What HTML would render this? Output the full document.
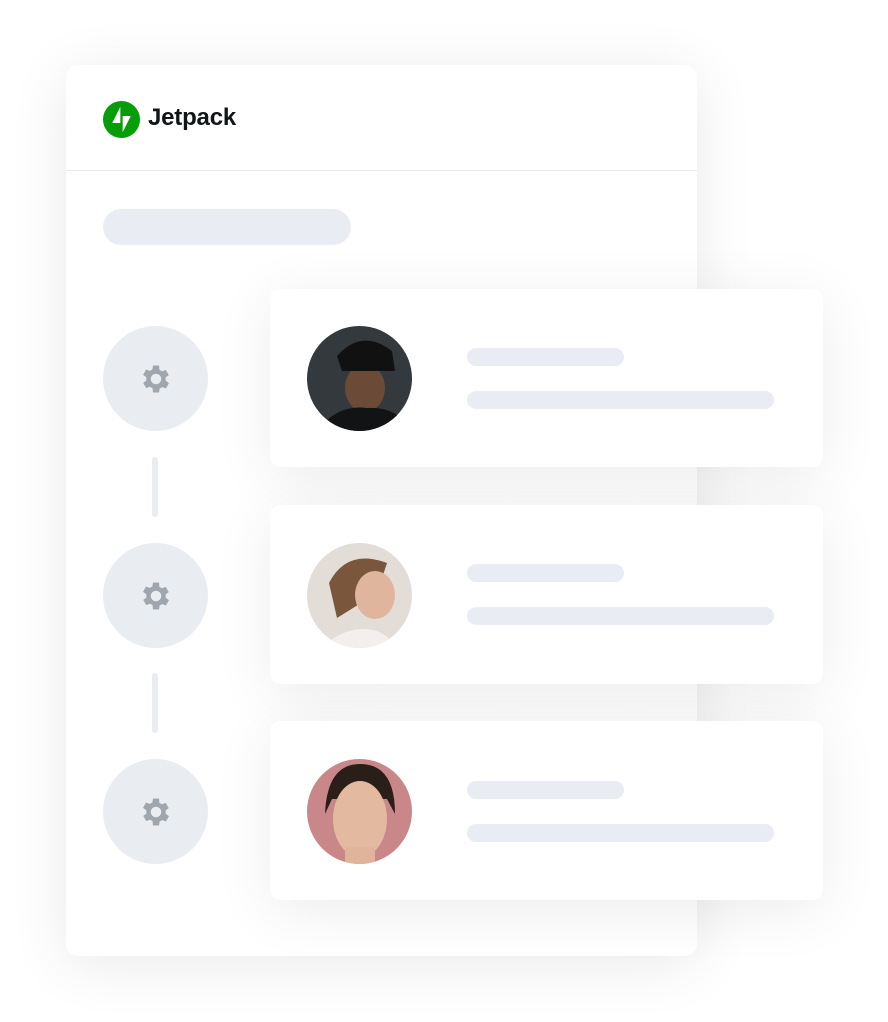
<!DOCTYPE html>
<html><head><meta charset="utf-8"><style>
html,body{margin:0;padding:0;background:#fff;}
body{width:888px;height:1022px;position:relative;overflow:hidden;font-family:"Liberation Sans",sans-serif;}
.abs{position:absolute;}
.main{left:66px;top:65px;width:631px;height:891px;background:#fff;border-radius:12px;box-shadow:0 8px 60px rgba(0,0,0,0.09);}
.card{left:270px;width:553px;height:178px;background:#fff;border-radius:10px;box-shadow:0 10px 60px rgba(0,0,0,0.08);}
.pill{background:#e9edf3;border-radius:10px;}
.circ{width:105px;height:105px;border-radius:50%;background:#e9edf2;left:103px;display:flex;align-items:center;justify-content:center;}
.conn{left:152px;width:6px;height:60px;border-radius:3px;background:#e9edf2;}
.av{left:307px;width:105px;height:105px;border-radius:50%;overflow:hidden;}
</style></head><body>
<div class="abs main"></div>
<svg class="abs" style="left:103px;top:101px" width="37" height="37" viewBox="0 0 32 32"><circle cx="16" cy="16" r="16" fill="#069e08"/><polygon points="15,5 15,19 8,19" fill="#fff"/><polygon points="17,27 17,13 24,13" fill="#fff"/></svg>
<div class="abs" style="left:148px;top:104px;font-size:24px;font-weight:bold;color:#101517;letter-spacing:-0.2px">Jetpack</div>
<div class="abs" style="left:66px;top:170px;width:631px;height:1px;background:#e8ecf2"></div>
<div class="abs pill" style="left:103px;top:209px;width:248px;height:36px;border-radius:18px"></div>

<div class="abs circ" style="top:326px"><svg width="36" height="36" viewBox="0 0 24 24"><path fill="#a0a6ad" d="M19.4 13a7.5 7.5 0 0 0 0-2l2.1-1.6-2-3.5-2.5 1a7 7 0 0 0-1.7-1L15 3h-4l-.4 2.7a7 7 0 0 0-1.7 1l-2.5-1-2 3.5L6.6 11a7.5 7.5 0 0 0 0 2l-2.1 1.6 2 3.5 2.5-1a7 7 0 0 0 1.7 1L11 21h4l.4-2.7a7 7 0 0 0 1.7-1l2.5 1 2-3.5zM13 15.5a3.5 3.5 0 1 1 0-7 3.5 3.5 0 0 1 0 7z" transform="translate(-1 0)"/></svg></div>
<div class="abs conn" style="top:457px"></div>
<div class="abs circ" style="top:543px"><svg width="36" height="36" viewBox="0 0 24 24"><path fill="#a0a6ad" d="M19.4 13a7.5 7.5 0 0 0 0-2l2.1-1.6-2-3.5-2.5 1a7 7 0 0 0-1.7-1L15 3h-4l-.4 2.7a7 7 0 0 0-1.7 1l-2.5-1-2 3.5L6.6 11a7.5 7.5 0 0 0 0 2l-2.1 1.6 2 3.5 2.5-1a7 7 0 0 0 1.7 1L11 21h4l.4-2.7a7 7 0 0 0 1.7-1l2.5 1 2-3.5zM13 15.5a3.5 3.5 0 1 1 0-7 3.5 3.5 0 0 1 0 7z" transform="translate(-1 0)"/></svg></div>
<div class="abs conn" style="top:673px"></div>
<div class="abs circ" style="top:759px"><svg width="36" height="36" viewBox="0 0 24 24"><path fill="#a0a6ad" d="M19.4 13a7.5 7.5 0 0 0 0-2l2.1-1.6-2-3.5-2.5 1a7 7 0 0 0-1.7-1L15 3h-4l-.4 2.7a7 7 0 0 0-1.7 1l-2.5-1-2 3.5L6.6 11a7.5 7.5 0 0 0 0 2l-2.1 1.6 2 3.5 2.5-1a7 7 0 0 0 1.7 1L11 21h4l.4-2.7a7 7 0 0 0 1.7-1l2.5 1 2-3.5zM13 15.5a3.5 3.5 0 1 1 0-7 3.5 3.5 0 0 1 0 7z" transform="translate(-1 0)"/></svg></div>

<div class="abs card" style="top:289px"></div>
<div class="abs card" style="top:505px;height:179px"></div>
<div class="abs card" style="top:721px;height:179px"></div>

<div class="abs av" style="top:326px"><svg width="105" height="105"><rect width="105" height="105" fill="#33393d"/><ellipse cx="58" cy="62" rx="20" ry="24" fill="#6b4a38"/><path d="M30 30 Q55 2 85 25 L88 45 L35 45Z" fill="#111"/><path d="M10 105 Q30 78 60 82 Q90 80 105 105Z" fill="#121314"/></svg></div>
<div class="abs av" style="top:543px"><svg width="105" height="105"><rect width="105" height="105" fill="#e3ddd8"/><path d="M22 40 Q40 5 80 20 L70 50 L30 75Z" fill="#7a563c"/><ellipse cx="68" cy="52" rx="20" ry="24" fill="#dfb69d"/><path d="M15 105 Q40 80 70 88 Q85 95 90 105Z" fill="#f2efec"/></svg></div>
<div class="abs av" style="top:759px"><svg width="105" height="105"><rect width="105" height="105" fill="#c9878a"/><path d="M18 55 Q20 5 53 5 Q88 5 88 55 L80 40 L25 40Z" fill="#2a1e19"/><ellipse cx="53" cy="60" rx="27" ry="38" fill="#e3b9a0"/><rect x="38" y="88" width="30" height="20" fill="#e0b49a"/></svg></div>

<div class="abs pill" style="left:467px;top:348px;width:157px;height:18px;border-radius:9px"></div>
<div class="abs pill" style="left:467px;top:391px;width:307px;height:18px;border-radius:9px"></div>
<div class="abs pill" style="left:467px;top:564px;width:157px;height:18px;border-radius:9px"></div>
<div class="abs pill" style="left:467px;top:607px;width:307px;height:18px;border-radius:9px"></div>
<div class="abs pill" style="left:467px;top:781px;width:157px;height:18px;border-radius:9px"></div>
<div class="abs pill" style="left:467px;top:824px;width:307px;height:18px;border-radius:9px"></div>
</body></html>
